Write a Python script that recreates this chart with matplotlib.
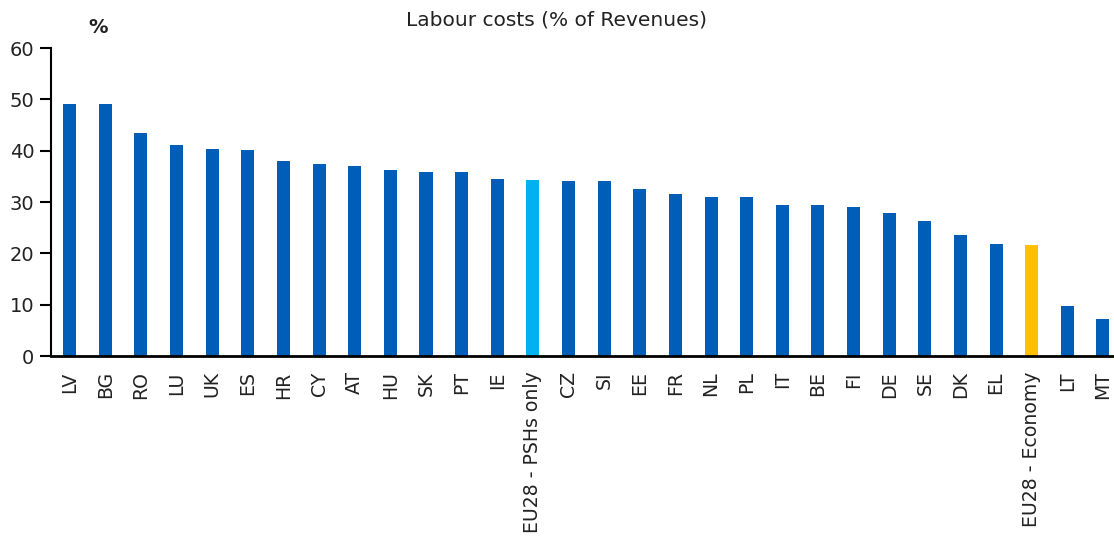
import matplotlib
matplotlib.use("Agg")
import matplotlib.pyplot as plt

# labour costs as % of revenues
countries = ["LV", "BG", "RO", "LU", "UK", "ES", "HR", "CY", "AT", "HU",
             "SK", "PT", "IE", "EU28 - PSHs only", "CZ", "SI", "EE", "FR", "NL", "PL",
             "IT", "BE", "FI", "DE", "SE", "DK", "EL", "EU28 - Economy", "LT", "MT"]
values = [49.1, 49.1, 43.4, 41.2, 40.3, 40.2, 37.9, 37.5, 37.0, 36.3,
          35.9, 35.8, 34.4, 34.3, 34.1, 34.0, 32.5, 31.6, 31.0, 31.0,
          29.4, 29.4, 29.0, 27.9, 26.3, 23.6, 21.8, 21.6, 9.8, 7.3]
yticks = [0, 10, 20, 30, 40, 50, 60]

colors = []
for c in countries:
    if c == "EU28 - PSHs only":
        colors.append("#00B0F0")
    elif c == "EU28 - Economy":
        colors.append("#FFC000")
    else:
        colors.append("#005EB8")

plt.rcParams['font.family'] = ['DejaVu Sans']

fig = plt.figure(figsize=(11.14, 5.38), dpi=100)
ax = fig.add_axes([51 / 1114, (538 - 356) / 538, (1114 - 51) / 1114, 308 / 538])

x = list(range(len(countries)))
ax.bar(x, values, width=0.365, color=colors)

ax.set_xlim(-0.525, 29.31)
ax.set_ylim(0, 60)
ax.set_yticks(yticks)
ax.set_yticklabels([str(t) for t in yticks], fontsize=14, color="#222222")
ax.set_xticks(x)
ax.set_xticklabels(countries, rotation=90, fontsize=13.6, color="#222222")
ax.tick_params(axis="x", length=0, pad=11)
ax.tick_params(axis="y", length=8, width=1.5, pad=4)

for s in ["top", "right"]:
    ax.spines[s].set_visible(False)
ax.spines["left"].set_linewidth(1.5)
ax.spines["bottom"].set_linewidth(2)

# title and unit label
fig.text(557 / 1114, 1 - 20 / 538, "Labour costs (% of Revenues)", ha="center", va="center",
         fontsize=14.5, color="#222222")
fig.text(98 / 1114, 1 - 28 / 538, "%", ha="center", va="center", fontsize=14,
         fontweight="bold", color="#222222")

fig.savefig("out.png", dpi=100)
